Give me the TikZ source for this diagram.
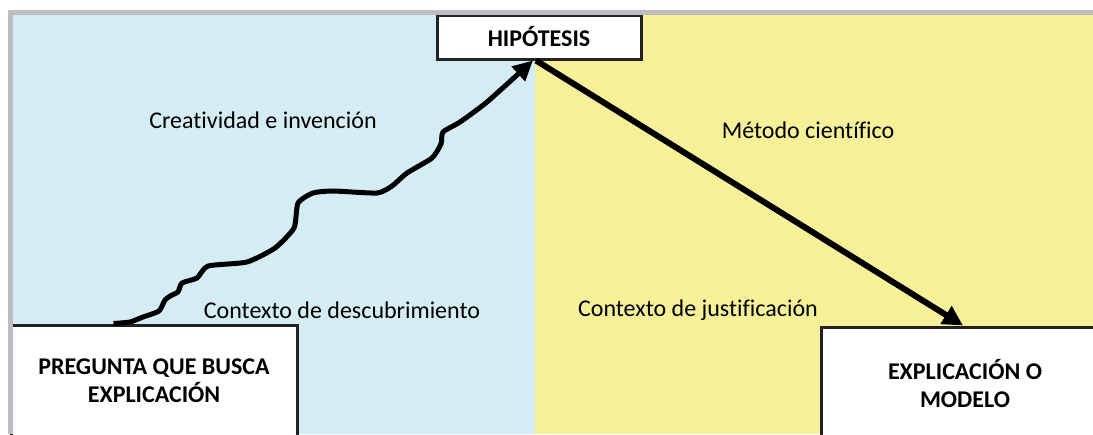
\documentclass[tikz,border=0pt]{standalone}
\usepackage{fontspec}
\setmainfont[Ligatures=NoCommon]{Carlito}
\usetikzlibrary{arrows.meta,calc}
\definecolor{bluebg}{HTML}{D4ECF3}
\definecolor{yellowbg}{HTML}{F6F199}
\definecolor{framegray}{HTML}{BDBDC1}
\definecolor{boxline}{HTML}{222222}
\tikzset{
  box/.style={draw=boxline, line width=3pt, fill=white, align=center,
    font=\fontsize{24}{28}\selectfont\bfseries, inner sep=0pt},
  lbl/.style={font=\fontsize{24}{28}\selectfont, inner sep=0pt},
  thickarrow/.style={line width=6pt, -{Triangle[length=20pt,width=20pt]}},
  wavyarrow/.style={line width=5pt, line join=round, -{Triangle[length=20pt,width=19pt]}},
}
\begin{document}
\begin{tikzpicture}[x=1pt,y=-1pt]
\useasboundingbox (0,0) rectangle (1093,434);
\clip (0,0) rectangle (1093,434);
\fill[white] (0,0) rectangle (1093,434);
\fill[bluebg] (10,12) rectangle (535,434);
\fill[yellowbg] (535,12) rectangle (1093,434);
% boxes
\node[box, minimum width=204pt, minimum height=44pt] (hyp) at (539,37) {HIPÓTESIS};
\node[box, minimum width=286pt, minimum height=112pt] (preg) at (154,381) {PREGUNTA QUE BUSCA\\EXPLICACIÓN};
\node[box, minimum width=288pt, minimum height=112pt] (expl) at (965,383) {EXPLICACIÓN O\\MODELO};
% frame
\draw[framegray, line width=5pt] (8,12.5) -- (1093,12.5);
\draw[framegray, line width=5pt] (10.5,10) -- (10.5,434);
% labels
\node[lbl] (l1) at (263,120) {Creatividad e invención};
\node[lbl] (l2) at (342,310) {Contexto de descubrimiento};
\node[lbl] (l3) at (808,130) {Método científico};
\node[lbl] (l4) at (698,310) {Contexto de justificación};
% connectors
\coordinate (ws) at ([xshift=104pt]preg.north west);
\coordinate (we) at ([xshift=-6pt]hyp.south);
\coordinate (ss) at ([xshift=-3pt]hyp.south);
\coordinate (se) at ([xshift=-2pt]expl.north);
\draw[wavyarrow] plot[smooth, tension=0.35] coordinates {(ws) (130,322) (143,317) (159,311) (165,300) (172,295) (178,292) (182,283) (197,278) (208,266) (247,262) (275,248) (294,228) (298,203) (313,193) (333,191) (377,193) (392,186) (407,173) (432,158) (441,144) (443,132) (460,122) (487,102) (we)};
\draw[thickarrow] (ss) -- (se);
\end{tikzpicture}
\end{document}
